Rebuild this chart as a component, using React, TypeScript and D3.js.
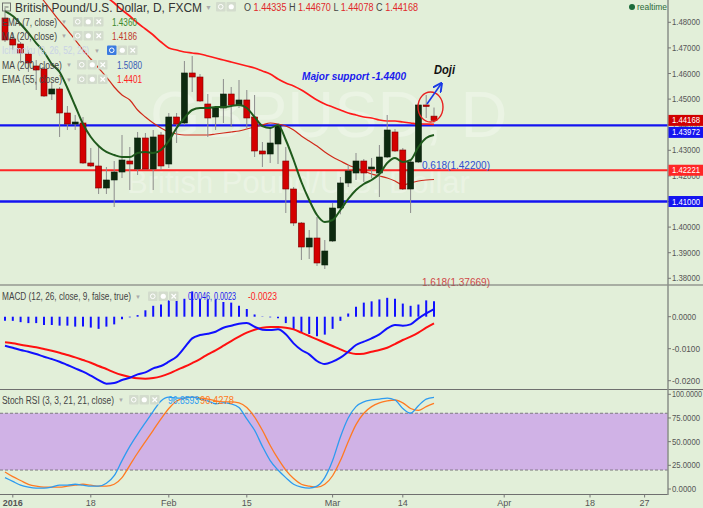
import React from "react";
import * as d3 from "d3";

const W = 703;
const H = 508;

// ---- price candles (GBPUSD daily, Jan 1 .. Mar 18 2016) ----
const opens = [1.48168,1.47348,1.47152,1.46762,1.46293,1.46176,1.45199,1.45395,1.44457,1.44027,1.44066,1.42504,1.42387,1.41527,1.41840,1.42152,1.42582,1.42270,1.43481,1.42270,1.43598,1.42465,1.44301,1.44066,1.46020,1.45863,1.44809,1.44301,1.44652,1.45199,1.44770,1.44965,1.44301,1.42973,1.42856,1.43246,1.42582,1.41488,1.40160,1.39223,1.39574,1.38520,1.39457,1.40746,1.41723,1.42113,1.42582,1.42270,1.42113,1.42738,1.43715,1.43012,1.41488,1.42543,1.44770,1.44335];
const highs = [1.48559,1.47582,1.47230,1.46918,1.46527,1.46254,1.45629,1.45473,1.44730,1.44379,1.44301,1.43090,1.43129,1.42348,1.42582,1.43598,1.43129,1.43715,1.43676,1.43793,1.43715,1.44457,1.44457,1.46488,1.46684,1.45980,1.45199,1.44730,1.45785,1.45473,1.45746,1.45355,1.45160,1.43324,1.43910,1.44066,1.43129,1.41566,1.40199,1.39887,1.40394,1.39496,1.40941,1.41957,1.42426,1.42895,1.42660,1.42700,1.43207,1.44379,1.43832,1.43090,1.42621,1.44809,1.45160,1.44670];
const lows = [1.47230,1.46918,1.46449,1.46059,1.45355,1.45082,1.44965,1.43520,1.43793,1.43793,1.42465,1.42348,1.41293,1.41293,1.40785,1.41918,1.41449,1.42035,1.42231,1.41449,1.42231,1.42309,1.43285,1.43988,1.45277,1.44887,1.43520,1.43793,1.44066,1.43910,1.44652,1.43871,1.42738,1.42348,1.42504,1.42465,1.40551,1.40043,1.38715,1.38754,1.38481,1.38363,1.39418,1.40500,1.41566,1.41840,1.41762,1.41918,1.41176,1.42699,1.42934,1.41449,1.40551,1.42504,1.44262,1.44078];
const closes = [1.47309,1.47113,1.46801,1.46410,1.46137,1.45121,1.45395,1.44457,1.44027,1.44105,1.42504,1.42387,1.41527,1.41840,1.42152,1.42621,1.42465,1.43481,1.42270,1.43520,1.42387,1.44301,1.44027,1.46020,1.45863,1.44926,1.44262,1.44652,1.45199,1.44770,1.44965,1.44262,1.42973,1.42856,1.43285,1.43949,1.41488,1.40160,1.39223,1.39574,1.38598,1.39066,1.40746,1.41723,1.42192,1.42582,1.42113,1.42348,1.42738,1.43793,1.42973,1.41488,1.42543,1.44770,1.44730,1.44168];

// ---- overlays ----
const ema7 = [1.48441,1.48246,1.47934,1.47582,1.47191,1.46840,1.46371,1.46059,1.45434,1.44730,1.44027,1.43520,1.43168,1.42934,1.42816,1.42738,1.42738,1.42895,1.42934,1.42895,1.43012,1.43363,1.43871,1.44262,1.44574,1.44652,1.44652,1.44691,1.44691,1.44730,1.44770,1.44652,1.44301,1.43949,1.43871,1.43988,1.43402,1.42621,1.41762,1.41059,1.40473,1.40199,1.40277,1.40668,1.41098,1.41449,1.41684,1.41840,1.42074,1.42504,1.42699,1.42543,1.42621,1.43129,1.43480,1.43598];
const ma20 = [1.50668,1.50316,1.49926,1.49574,1.49223,1.48832,1.48441,1.48051,1.47699,1.47309,1.46918,1.46566,1.46215,1.45863,1.45473,1.45160,1.44965,1.44574,1.44301,1.44066,1.43871,1.43715,1.43637,1.43598,1.43598,1.43598,1.43598,1.43637,1.43676,1.43715,1.43754,1.43832,1.43910,1.43988,1.44066,1.44027,1.43949,1.43793,1.43559,1.43363,1.43168,1.42934,1.42738,1.42582,1.42426,1.42309,1.42192,1.42074,1.41996,1.41918,1.41801,1.41645,1.41723,1.41801,1.41840,1.41860];
const ema55 = [1.52231,1.51996,1.51723,1.51488,1.51215,1.50980,1.50707,1.50473,1.50238,1.50004,1.49731,1.49496,1.49223,1.48988,1.48754,1.48480,1.48246,1.47973,1.47738,1.47504,1.47230,1.46996,1.46918,1.46840,1.46801,1.46762,1.46684,1.46605,1.46527,1.46449,1.46371,1.46293,1.46215,1.46098,1.45980,1.45785,1.45629,1.45512,1.45355,1.45160,1.44965,1.44809,1.44691,1.44574,1.44457,1.44379,1.44301,1.44262,1.44184,1.44145,1.44145,1.44105,1.44066,1.44027,1.44027,1.44010];

// ---- MACD ----
const macdLine = [-0.00906,-0.00969,-0.01042,-0.01094,-0.01167,-0.0125,-0.01323,-0.01406,-0.0151,-0.01615,-0.01719,-0.01844,-0.01979,-0.02094,-0.02073,-0.01979,-0.01906,-0.01802,-0.0174,-0.01615,-0.01542,-0.01406,-0.0125,-0.00969,-0.00677,-0.00573,-0.00531,-0.00469,-0.00344,-0.00281,-0.00219,-0.00198,-0.00313,-0.00406,-0.00417,-0.00396,-0.00552,-0.00833,-0.01042,-0.01177,-0.01385,-0.01479,-0.01406,-0.01281,-0.01094,-0.00885,-0.00781,-0.00677,-0.00552,-0.00365,-0.0026,-0.00281,-0.0024,-0.00052,0.00104,0.0024];
const signalLine = [-0.00802,-0.00833,-0.00875,-0.00917,-0.00958,-0.0101,-0.01063,-0.01125,-0.01198,-0.01271,-0.01354,-0.01438,-0.01542,-0.01635,-0.0174,-0.01823,-0.01885,-0.01927,-0.01938,-0.01917,-0.01865,-0.01781,-0.01667,-0.01563,-0.01448,-0.01323,-0.01177,-0.01052,-0.00906,-0.0076,-0.00625,-0.005,-0.00406,-0.00344,-0.00323,-0.00323,-0.00344,-0.00396,-0.005,-0.00604,-0.00708,-0.00813,-0.00917,-0.01021,-0.01115,-0.01167,-0.01156,-0.01094,-0.01042,-0.00969,-0.00854,-0.00729,-0.00625,-0.005,-0.00344,-0.00208];
const macdHist = [-0.0013,-0.0013,-0.0017,-0.002,-0.002,-0.0026,-0.0026,-0.0028,-0.0028,-0.0031,-0.0031,-0.0034,-0.0038,-0.0031,-0.0024,-0.0008,-0.0002,0.0005,0.002,0.0034,0.0038,0.0051,0.0056,0.0056,0.0079,0.0056,0.0054,0.0054,0.0046,0.0044,0.0034,0.0024,0.0007,-0.0001,-0.0002,-0.0005,-0.002,-0.0041,-0.0051,-0.0054,-0.0061,-0.0056,-0.0038,-0.0013,0.001,0.0031,0.0044,0.0048,0.0054,0.0059,0.0056,0.0041,0.0034,0.0038,0.0051,0.0048];

// ---- Stoch RSI ----
const stochK = [12,8,4,2,1,1,2,4,4,5,4,3,3,6,14,30,45,58,70,82,93,97,96,96,97,95,93,90,91,90,86,74,62,45,30,20,12,5,2,1,3,12,30,55,75,87,92,94,95,96,94,85,80,88,95,96.86];
const stochD = [18,13,9,5,3,2,2,2,3,4,5,4,3,3,5,12,25,38,50,62,74,85,93,96,97,96,95,93,92,92,91,86,76,62,46,32,20,11,5,3,2,5,14,30,50,68,80,87,91,93,94,91,85,83,87,90.43];

// ---- axes ----
const priceTicks = [1.38, 1.39, 1.40, 1.41, 1.42, 1.43, 1.44, 1.45, 1.46, 1.47, 1.48];
const macdTicks = [0, -0.01, -0.02];
const rsiTicks = [0, 25, 50, 75, 100];
const dateLabels = ["2016", "18", "Feb", "15", "Mar", "14", "Apr", "18", "27"];
const dateIdx = [1, 11, 21, 31, 42, 51, 64, 75, 82];

// ---- levels ----
const levelValues = [1.43972, 1.42221, 1.41];
const levelColors = ["#1414f0", "#ff2626", "#1414f0"];
const lastClose = 1.44168;

const FONT = "'Liberation Sans', Arial, Helvetica, sans-serif";
const AX = 668;

function T({ x, y, len, size = 10, fill = "#444", children, ...rest }: any) {
  return (
    <text x={x} y={y} fontSize={size} fill={fill} textLength={len} lengthAdjust="spacingAndGlyphs" {...rest}>
      {children}
    </text>
  );
}

function Icons({ x, y, n = 3, first }: { x: number; y: number; n?: number; first?: string }) {
  const out: any[] = [];
  for (let k = 0; k < n; k++) {
    const fx = x + k * 10.5;
    const fill = k === 0 && first ? first : "#d3dccd";
    out.push(<rect key={k} x={fx} y={y - 5} width={9.5} height={9.5} rx={1} fill={fill} />);
    if (k === 0) out.push(<circle key={"c" + k} cx={fx + 4.75} cy={y - 0.25} r={2.3} fill="none" stroke="#fff" strokeWidth={1} />);
    if (k === 1) out.push(<circle key={"g" + k} cx={fx + 4.75} cy={y - 0.25} r={2.6} fill="#fff" />);
    if (k === 2) out.push(<path key={"x" + k} d={`M${fx + 2.5},${y - 2.5}L${fx + 7},${y + 2}M${fx + 7},${y - 2.5}L${fx + 2.5},${y + 2}`} stroke="#fff" strokeWidth={1.2} />);
  }
  return <g>{out}</g>;
}

export default function App() {
  const x = d3.scaleLinear().domain([0, 82]).range([5, 644.6]);
  const yP = d3.scaleLinear().domain([1.38, 1.48]).range([278.3, 22.3]);
  const yM = d3.scaleLinear().domain([-0.02, 0]).range([380.7, 316.7]);
  const yR = d3.scaleLinear().domain([0, 100]).range([489, 394.3]);

  const lineP = d3.line<number>().x((_, i) => x(i)).y((d) => yP(d)).curve(d3.curveMonotoneX);
  const lineM = d3.line<number>().x((_, i) => x(i)).y((d) => yM(d)).curve(d3.curveMonotoneX);
  const lineR = d3.line<number>().x((_, i) => x(i)).y((d) => yR(d)).curve(d3.curveMonotoneX);

  const boxDefs = [
    { v: lastClose, color: "#d10000" },
    { v: levelValues[0], color: "#1414f0" },
    { v: levelValues[1], color: "#ff2626" },
    { v: levelValues[2], color: "#1414f0" },
  ];
  const boxes: { v: number; color: string; top: number }[] = [];
  let prevBottom = -Infinity;
  boxDefs.forEach((b) => {
    let top = yP(b.v) - 5.5;
    if (top < prevBottom + 1) top = prevBottom + 1;
    prevBottom = top + 11;
    boxes.push({ ...b, top });
  });

  const bw = 6;
  const axLabel = (s: string) => s.length * 4;

  return (
    <svg width={W} height={H} style={{ position: "absolute", left: 0, top: 0 }} fontFamily={FONT}>
      <defs>
        <clipPath id="cpMain"><rect x={0} y={0} width={AX} height={285} /></clipPath>
        <clipPath id="cpMacd"><rect x={0} y={285} width={AX} height={104} /></clipPath>
        <clipPath id="cpRsi"><rect x={0} y={389} width={AX} height={105} /></clipPath>
        <marker id="arr" viewBox="0 0 10 10" refX={8} refY={5} markerWidth={6} markerHeight={6} orient="auto">
          <path d="M0,0L10,5L0,10" fill="none" stroke="#1a3ae6" strokeWidth={2} />
        </marker>
      </defs>
      <rect x={0} y={0} width={W} height={H} fill="#e2efd9" />

      {/* watermark */}
      <text x={150} y={137} fontSize={65} fill="#ffffff" fillOpacity={0.3}>GBPUSD, D</text>
      <text x={127} y={193} fontSize={31} fill="#ffffff" fillOpacity={0.3}>British Pound/U.S. Dollar</text>

      {/* main panel */}
      <g clipPath="url(#cpMain)">
        {levelValues.map((v, k) => (
          <line key={k} x1={0} x2={AX} y1={yP(v)} y2={yP(v)} stroke={levelColors[k]} strokeWidth={k === 1 ? 2 : 2.4} />
        ))}
        <path d={lineP(ema55) || ""} fill="none" stroke="#ff1a1a" strokeWidth={1.7} />
        <path d={lineP(ma20) || ""} fill="none" stroke="#d02a1a" strokeWidth={1.2} />
        {opens.map((o, i) => {
          const c = closes[i];
          const up = c >= o;
          const top = yP(Math.max(o, c));
          const bot = yP(Math.min(o, c));
          return (
            <g key={i}>
              <line x1={x(i)} x2={x(i)} y1={yP(highs[i])} y2={yP(lows[i])} stroke="#8c8c8c" strokeWidth={1} />
              <rect x={x(i) - bw / 2} y={top} width={bw} height={Math.max(1.5, bot - top)}
                fill={up ? "#0d2a0f" : "#d40000"} stroke={up ? "#0a200b" : "#7a0000"} strokeWidth={0.6} />
            </g>
          );
        })}
        <path d={lineP(ema7) || ""} fill="none" stroke="#1f5a1c" strokeWidth={2} />
      </g>

      {/* annotations */}
      <T x={302} y={80} len={104} size={10.5} fontWeight="bold" fontStyle="italic" fill="#1a1aee">Major support -1.4400</T>
      <T x={434} y={74} len={21} size={12} fontWeight="bold" fontStyle="italic" fill="#111">Doji</T>
      <ellipse cx={430.5} cy={107} rx={12.5} ry={15} fill="none" stroke="#e82020" strokeWidth={1.4} />
      <line x1={427} y1={104} x2={441} y2={84} stroke="#1a3ae6" strokeWidth={1.6} markerEnd="url(#arr)" />
      <T x={422} y={169} len={68} size={10} fill="#3050d0">0.618(1.42200)</T>
      <T x={422} y={286} len={68} size={10} fill="#d04848">1.618(1.37669)</T>

      {/* MACD panel */}
      <g clipPath="url(#cpMacd)">
        {macdHist.map((h, i) => (
          <line key={i} x1={x(i)} x2={x(i)} y1={yM(0)} y2={yM(h)} stroke="#1010ff" strokeWidth={2} />
        ))}
        <path d={lineM(signalLine) || ""} fill="none" stroke="#ff1010" strokeWidth={2} />
        <path d={lineM(macdLine) || ""} fill="none" stroke="#1010ff" strokeWidth={2} />
      </g>

      {/* Stoch RSI panel */}
      <rect x={0} y={yR(80)} width={AX} height={yR(20) - yR(80)} fill="#d0b2e6" />
      <line x1={0} x2={AX} y1={yR(80)} y2={yR(80)} stroke="#666" strokeDasharray="3,2" strokeWidth={0.8} />
      <line x1={0} x2={AX} y1={yR(20)} y2={yR(20)} stroke="#666" strokeDasharray="3,2" strokeWidth={0.8} />
      <g clipPath="url(#cpRsi)">
        <path d={lineR(stochD) || ""} fill="none" stroke="#ff7a22" strokeWidth={1.3} />
        <path d={lineR(stochK) || ""} fill="none" stroke="#2d9bf0" strokeWidth={1.3} />
      </g>

      {/* separators & axis */}
      <line x1={0} x2={W} y1={285} y2={285} stroke="#6f6f6f" strokeWidth={1.2} />
      <line x1={0} x2={W} y1={389.5} y2={389.5} stroke="#6f6f6f" strokeWidth={1.2} />
      <line x1={0} x2={AX} y1={494.5} y2={494.5} stroke="#6f6f6f" strokeWidth={1.2} />
      <line x1={AX} x2={AX} y1={0} y2={495} stroke="#8a8f88" strokeWidth={1.5} />

      {priceTicks.map((t) => (
        <g key={t}>
          <line x1={AX} x2={AX + 3} y1={yP(t)} y2={yP(t)} stroke="#777" />
          <T x={AX + 4} y={yP(t) + 3} len={axLabel(t.toFixed(5))} size={8.5} fill="#555">{t.toFixed(5)}</T>
        </g>
      ))}
      {macdTicks.map((t) => (
        <g key={t}>
          <line x1={AX} x2={AX + 3} y1={yM(t)} y2={yM(t)} stroke="#777" />
          <T x={AX + 4} y={yM(t) + 3} len={axLabel(t.toFixed(4))} size={8.5} fill="#555">{t.toFixed(4)}</T>
        </g>
      ))}
      {rsiTicks.map((t) => (
        <g key={t}>
          <line x1={AX} x2={AX + 3} y1={yR(t)} y2={yR(t)} stroke="#777" />
          <T x={AX + 4} y={yR(t) + 3} len={Math.min(axLabel(t.toFixed(4)), 30)} size={8.5} fill="#555">{t.toFixed(4)}</T>
        </g>
      ))}
      {boxes.map((b, k) => (
        <g key={k}>
          <rect x={AX + 0.5} y={b.top} width={W - AX} height={11} fill={b.color} />
          <T x={AX + 4} y={b.top + 8.5} len={28} size={8.5} fill="#fff">{b.v.toFixed(5)}</T>
        </g>
      ))}

      {dateLabels.map((l, k) => (
        <g key={k}>
          <line x1={x(dateIdx[k])} x2={x(dateIdx[k])} y1={494.5} y2={497.5} stroke="#777" />
          <text x={x(dateIdx[k])} y={506} fontSize={9} fill="#555" textAnchor="middle" fontWeight={k === 0 ? "bold" : "normal"}>{l}</text>
        </g>
      ))}

      {/* header */}
      <rect x={2.5} y={3} width={8} height={8} fill="none" stroke="#666" strokeWidth={0.9} />
      <line x1={4.5} x2={8.5} y1={7} y2={7} stroke="#666" strokeWidth={0.9} />
      <T x={15} y={12} len={187} size={12.5} fill="#333">British Pound/U.S. Dollar, D, FXCM</T>
      <text x={205} y={10} fontSize={7} fill="#aaa">▼</text>
      <Icons x={216} y={7} n={2} />
      <T x={244} y={10.5} len={174} size={10} fill="#444">
        O <tspan fill="#e0282a">1.44335</tspan> H <tspan fill="#e0282a">1.44670</tspan> L <tspan fill="#e0282a">1.44078</tspan> C <tspan fill="#e0282a">1.44168</tspan>
      </T>
      <circle cx={632} cy={7} r={3} fill="#1b6b3a" />
      <T x={637} y={10} len={30} size={8.5} fill="#2b6a3b">realtime</T>

      {/* legend */}
      <T x={2} y={25.5} len={55}>EMA (7, close)</T>
      <text x={61} y={24} fontSize={6} fill="#aaa">▼</text>
      <Icons x={73} y={22} />
      <T x={112} y={25.5} len={25} fill="#3d8a2c">1.4360</T>

      <T x={2} y={39.5} len={55}>MA (20, close)</T>
      <text x={61} y={38} fontSize={6} fill="#aaa">▼</text>
      <Icons x={73} y={36} />
      <T x={112} y={39.5} len={25} fill="#c0392b">1.4186</T>

      <T x={2} y={54} len={87} fill="#c9d2e6">Ichimoku (9, 26, 52, 26)</T>
      <text x={94} y={52.5} fontSize={6} fill="#aaa">▼</text>
      <Icons x={107} y={50.5} first="#3b7be0" />

      <T x={2} y={68.5} len={60}>MA (200, close)</T>
      <text x={66} y={67} fontSize={6} fill="#aaa">▼</text>
      <Icons x={77} y={65} />
      <T x={117} y={68.5} len={25} fill="#3a5cb8">1.5080</T>

      <T x={2} y={83} len={60}>EMA (55, close)</T>
      <text x={66} y={81.5} fontSize={6} fill="#aaa">▼</text>
      <Icons x={77} y={79.5} />
      <T x={117} y={83} len={25} fill="#ff2222">1.4401</T>

      <T x={2} y={300} len={129}>MACD (12, 26, close, 9, false, true)</T>
      <text x={135} y={298.5} fontSize={6} fill="#aaa">▼</text>
      <Icons x={148} y={296.5} />
      <T x={188} y={300} len={48} fill="#1a1aee">0.0046, 0.0023</T>
      <T x={248} y={300} len={29} fill="#ff2222">-0.0023</T>

      <T x={2} y={403.5} len={112}>Stoch RSI (3, 3, 21, 21, close)</T>
      <text x={118} y={402} fontSize={6} fill="#aaa">▼</text>
      <Icons x={129} y={400} />
      <T x={168} y={403.5} len={31} fill="#2d9bf0">96.8593</T>
      <T x={200} y={403.5} len={34} fill="#ff7a22">90.4278</T>
    </svg>
  );
}
